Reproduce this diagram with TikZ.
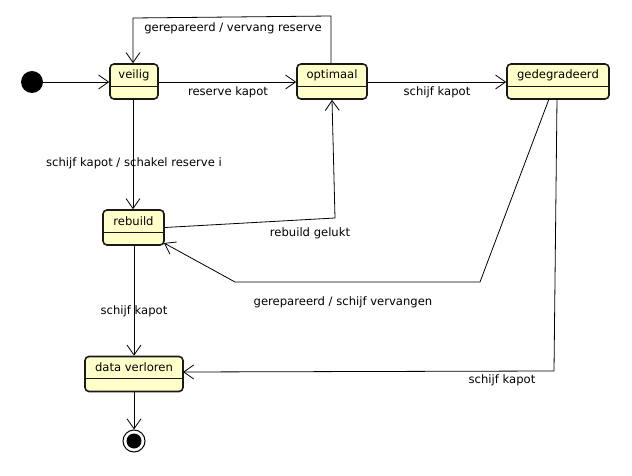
\documentclass[tikz,border=0pt]{standalone}
\usepackage{fontspec}
\setmainfont{DejaVu Sans}
\usetikzlibrary{arrows.meta}
\definecolor{stfill}{HTML}{FFFFCA}
\begin{document}
\begin{tikzpicture}[x=1pt,y=-1pt,
  font=\fontsize{11.6}{13.5}\selectfont,
  state/.style={draw=black!90, line width=1.6pt, fill=stfill, rounded corners=4pt,
    inner xsep=0pt, inner ysep=0pt, text height=15pt, text depth=20pt,
    path picture={\draw[line width=0.8pt]
      ([yshift=-22pt]path picture bounding box.north west) --
      ([yshift=-22pt]path picture bounding box.north east);}},
  trans/.style={line width=0.8pt, -{Straight Barb[length=10pt,width=14pt,line width=0.8pt]}},
  lbl/.style={inner sep=0pt}]
\useasboundingbox[fill=white] (0,0) rectangle (632,476);

% pseudo states
\node[circle, fill=black, minimum size=22pt, inner sep=0pt] (init) at (32,82) {};
\node[circle, draw=black, line width=1pt, minimum size=22pt, inner sep=0pt,
  path picture={\fill[black] (path picture bounding box.center) circle (7.5pt);}] (final) at (134,441) {};

% states
\node[state, minimum width=48pt] (veilig) at (134,81.5) {veilig};
\node[state, minimum width=70pt] (optimaal) at (332,81.5) {optimaal};
\node[state, minimum width=102pt] (gedegradeerd) at (558,81.5) {gedegradeerd};
\node[state, minimum width=61pt] (rebuild) at (133.5,227.5) {rebuild};
\node[state, minimum width=98pt] (verloren) at (134,374) {data verloren};

% bend points
\coordinate (loopR) at (331,16);
\coordinate (loopL) at (133,18);
\coordinate (rbBend) at (335,218);
\coordinate (gdStart) at (549,99);
\coordinate (gdBendA) at (480,282);
\coordinate (gdBendB) at (235,282);
\coordinate (gdEnd) at (164,243);
\coordinate (dlStart) at (557,99);
\coordinate (dlBend) at (554,371);
\coordinate (dlEnd) at (183,372);

% transitions
\draw[trans] (init) -- (veilig.west |- init);
\draw[trans] (veilig.east |- init) -- (optimaal.west |- init);
\draw[trans] (optimaal.north -| loopR) -- (loopR) -- (loopL) -- (veilig.north -| loopL);
\draw[trans] (optimaal.east |- init) -- (gedegradeerd.west |- init);
\draw[trans] (veilig.south -| loopL) -- (rebuild.north -| loopL);
\draw[trans] (rebuild.east) -- (rbBend) -- (optimaal.south);
\draw[trans] (gdStart) -- (gdBendA) -- (gdBendB) -- (gdEnd);
\draw[trans] (dlStart) -- (dlBend) -- (dlEnd);
\draw[trans] (rebuild.south -| verloren.north) -- (verloren.north);
\draw[trans] (verloren.south) -- (final.north);

% labels
\node[lbl] (l1) at (233,28) {gerepareerd / vervang reserve};
\node[lbl] (l2) at (228,92) {reserve kapot};
\node[lbl] (l3) at (437,92) {schijf kapot};
\node[lbl] (l4) at (134,163) {schijf kapot / schakel reserve i};
\node[lbl] (l5) at (310,233) {rebuild gelukt};
\node[lbl] (l6) at (343,302) {gerepareerd / schijf vervangen};
\node[lbl] (l7) at (134,311) {schijf kapot};
\node[lbl] (l8) at (502,380) {schijf kapot};
\end{tikzpicture}
\end{document}
